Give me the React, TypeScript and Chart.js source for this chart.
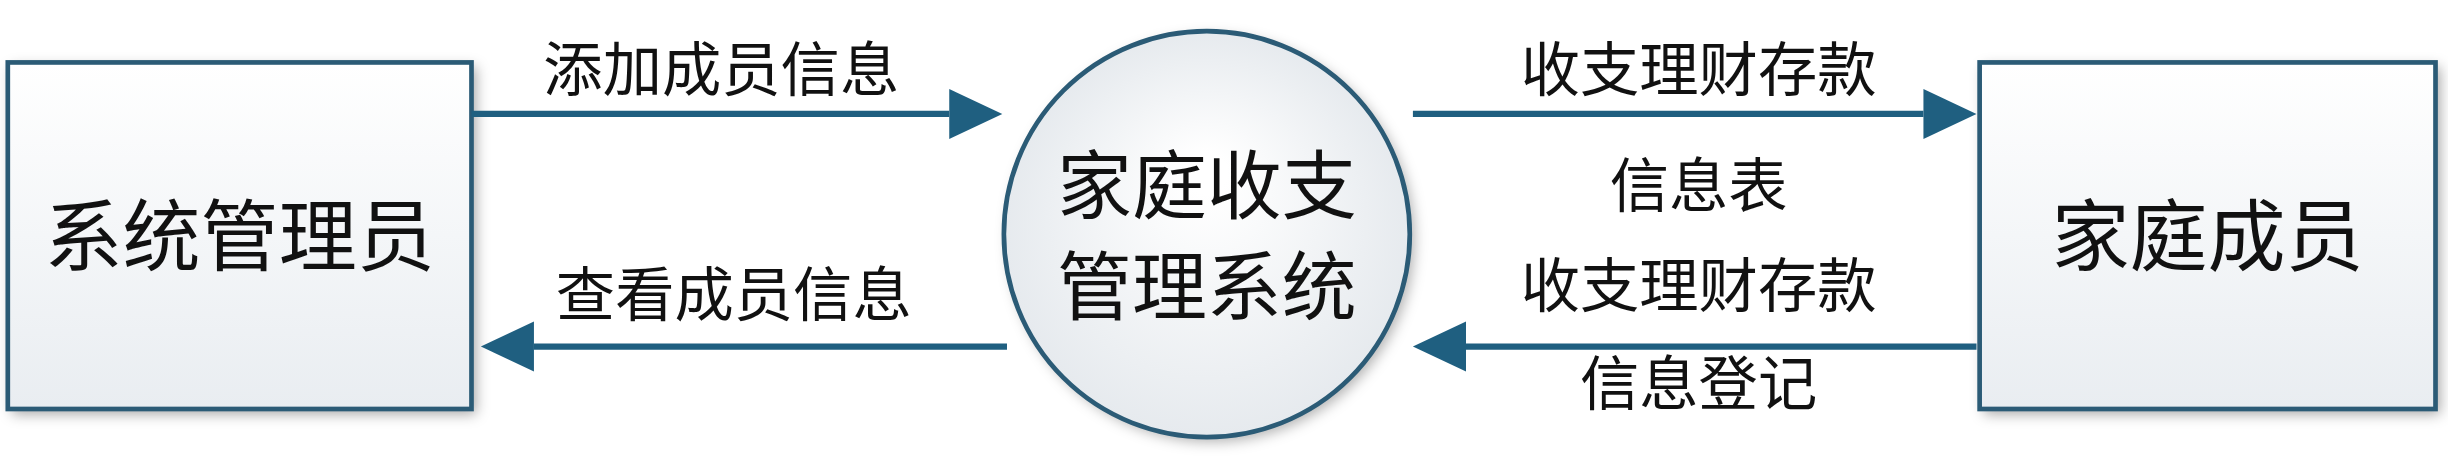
import React, { useEffect, useRef } from "react";
import { Chart, registerables } from "chart.js";
Chart.register(...registerables);

// Diagram coordinates in a 1568 x 303 reference space
const boxes = [
  { x0: 5, y0: 40, x1: 302, y1: 262, lines: ["系统管理员"] },
  { x0: 1268, y0: 40, x1: 1560, y1: 262, lines: ["家庭成员"] },
];
const circleCenter = { x: 773, y: 150, r: 130 };
const circleLines = ["家庭收支", "管理系统"];
const arrows = [
  { from: [302, 73], to: [642, 73] },
  { from: [645, 222], to: [308, 222] },
  { from: [905, 73], to: [1266, 73] },
  { from: [1266, 222], to: [905, 222] },
];
const labels = [
  { x: 462, y: 44, t: "添加成员信息" },
  { x: 470, y: 188, t: "查看成员信息" },
  { x: 1088, y: 44, t: "收支理财存款" },
  { x: 1088, y: 118, t: "信息表" },
  { x: 1088, y: 182, t: "收支理财存款" },
  { x: 1088, y: 245, t: "信息登记" },
];

const BORDER = "#2b5b76";
const ARROW = "#1f5f80";
const FONT = '"Noto Sans CJK SC", sans-serif';

export default function App() {
  const ref = useRef<HTMLCanvasElement>(null);
  useEffect(() => {
    document.body.style.margin = "0";
    const diagram = {
      id: "diagram",
      afterDatasetsDraw(chart: any) {
        const ctx = chart.ctx;
        const xs = chart.scales.x, ys = chart.scales.y;
        const X = (v: number) => xs.getPixelForValue(v);
        const Y = (v: number) => ys.getPixelForValue(v);
        const k = X(1) - X(0);
        ctx.save();
        // boxes
        boxes.forEach((b) => {
          const x0 = X(b.x0), y0 = Y(b.y0), w = X(b.x1) - x0, h = Y(b.y1) - y0;
          ctx.shadowColor = "rgba(0,0,0,0.35)";
          ctx.shadowBlur = 8 * k; ctx.shadowOffsetX = 3 * k; ctx.shadowOffsetY = 3 * k;
          const g = ctx.createLinearGradient(0, y0, 0, y0 + h);
          g.addColorStop(0, "#ffffff"); g.addColorStop(1, "#e9edf1");
          ctx.fillStyle = g; ctx.fillRect(x0, y0, w, h);
          ctx.shadowColor = "transparent";
          ctx.strokeStyle = BORDER; ctx.lineWidth = 3 * k; ctx.strokeRect(x0, y0, w, h);
          ctx.fillStyle = "#111"; ctx.font = `${50 * k}px ${FONT}`;
          ctx.textAlign = "center"; ctx.textBaseline = "middle";
          ctx.fillText(b.lines[0], x0 + w / 2, y0 + h / 2);
        });
        // circle
        const cx = X(circleCenter.x), cy = Y(circleCenter.y), r = circleCenter.r * k;
        ctx.shadowColor = "rgba(0,0,0,0.3)"; ctx.shadowBlur = 8 * k; ctx.shadowOffsetX = 3 * k; ctx.shadowOffsetY = 3 * k;
        const cg = ctx.createRadialGradient(cx, cy - r * 0.3, r * 0.1, cx, cy, r);
        cg.addColorStop(0, "#ffffff"); cg.addColorStop(1, "#e6eaee");
        ctx.beginPath(); ctx.arc(cx, cy, r, 0, Math.PI * 2); ctx.fillStyle = cg; ctx.fill();
        ctx.shadowColor = "transparent";
        ctx.strokeStyle = BORDER; ctx.lineWidth = 3 * k; ctx.stroke();
        ctx.fillStyle = "#111"; ctx.font = `${48 * k}px ${FONT}`;
        ctx.fillText(circleLines[0], cx, Y(118));
        ctx.fillText(circleLines[1], cx, Y(183));
        // arrows
        arrows.forEach((a) => {
          const fx = X(a.from[0]), fy = Y(a.from[1]), tx = X(a.to[0]), ty = Y(a.to[1]);
          const dir = Math.sign(tx - fx);
          const hl = 34 * k, hw = 16 * k;
          ctx.strokeStyle = ARROW; ctx.lineWidth = 4 * k;
          ctx.beginPath(); ctx.moveTo(fx, fy); ctx.lineTo(tx - dir * hl, ty); ctx.stroke();
          ctx.fillStyle = ARROW; ctx.beginPath();
          ctx.moveTo(tx, ty); ctx.lineTo(tx - dir * hl, ty - hw); ctx.lineTo(tx - dir * hl, ty + hw);
          ctx.closePath(); ctx.fill();
        });
        // labels
        ctx.fillStyle = "#111"; ctx.font = `${38 * k}px ${FONT}`;
        labels.forEach((l) => ctx.fillText(l.t, X(l.x), Y(l.y)));
        ctx.restore();
      },
    };
    const chart = new Chart(ref.current!, {
      type: "scatter",
      data: { datasets: [{ data: [], pointRadius: 0 }] },
      options: {
        animation: false, responsive: false,
        layout: { padding: 0 },
        plugins: { legend: { display: false }, tooltip: { enabled: false } },
        scales: {
          x: { type: "linear", min: 0, max: 1568, display: false },
          y: { type: "linear", min: 0, max: 303, reverse: true, display: false },
        },
      },
      plugins: [diagram],
    });
    return () => chart.destroy();
  }, []);
  return <canvas ref={ref} width={2448} height={473} style={{ display: "block", background: "#fff" }} />;
}
